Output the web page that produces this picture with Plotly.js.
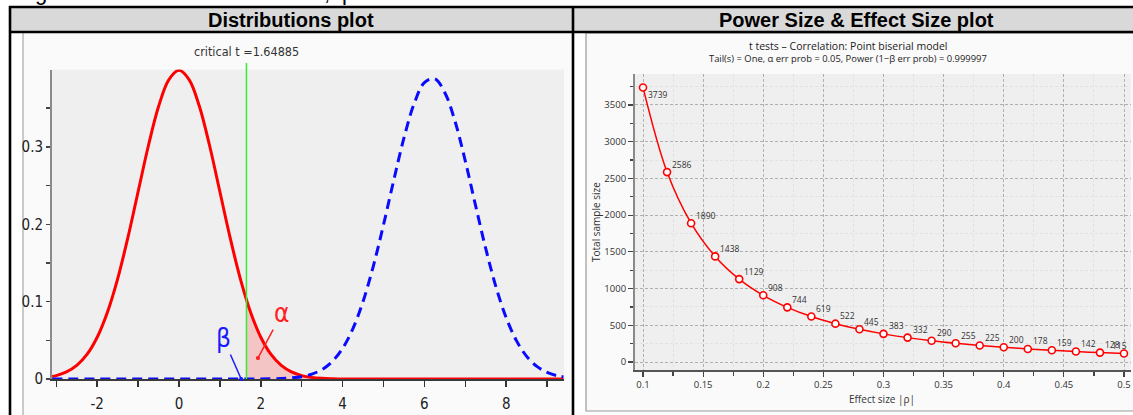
<!DOCTYPE html>
<html><head><meta charset="utf-8">
<script src="https://cdn.plot.ly/plotly-3.0.1.min.js"></script>
<style>html,body{margin:0;padding:0;background:#fff;}#chart{width:1133px;height:415px;}</style>
</head><body><div id="chart"></div>
<script>
// ---------- Data: Distributions plot ----------
const criticalT = 1.64885;
const h0X = [-3.1,-3,-2.75,-2.5,-2.25,-2,-1.75,-1.5,-1.25,-1,-0.75,-0.5,-0.25,0,0.25,0.5,0.75,1,1.25,1.5,1.75,2,2.25,2.5,2.75,3,3.25,3.5,3.75,4,5,6,7,8,9,9.4];
const h0Y = [0.0033,0.0044,0.0091,0.0175,0.0317,0.054,0.0863,0.1295,0.1826,0.242,0.3011,0.3521,0.3867,0.3989,0.3867,0.3521,0.3011,0.242,0.1826,0.1295,0.0863,0.054,0.0317,0.0175,0.0091,0.0044,0.002,0.0009,0.0004,0.0001,0,0,0,0,0,0];
const h1X = [-3.1,-2,-1,0,1,2,2.5,2.75,3,3.25,3.5,3.75,4,4.25,4.5,4.75,5,5.25,5.5,5.75,6,6.25,6.5,6.75,7,7.25,7.5,7.75,8,8.25,8.5,8.75,9,9.25,9.4];
const h1Y = [0,0,0,0,0,0,0.0006,0.0014,0.003,0.0063,0.0123,0.0228,0.0396,0.0649,0.1002,0.1456,0.1993,0.2567,0.3115,0.356,0.383,0.388,0.37,0.3328,0.2816,0.2244,0.1684,0.119,0.0792,0.0496,0.0293,0.0163,0.0085,0.0042,0.0027];
const alphaX = [1.64885,1.75,2,2.25,2.5,2.75,3,3.25,3.5,3.75];
const alphaY = [0.1024,0.0863,0.054,0.0317,0.0175,0.0091,0.0044,0.002,0.0009,0.0004];
const distTickVals = [-3,-2,-1,0,1,2,3,4,5,6,7,8,9];
const distTickText = ['','-2','','0','','2','','4','','6','','8',''];
const densTickVals = [0,0.05,0.1,0.15,0.2,0.25,0.3,0.35];
const densTickText = ['0','','0.1','','0.2','','0.3',''];
const alphaTip = [1.93, 0.027];
const betaTip = [1.52, 0];

// ---------- Data: Power / Effect size plot ----------
const effectSize = [0.1,0.12,0.14,0.16,0.18,0.2,0.22,0.24,0.26,0.28,0.3,0.32,0.34,0.36,0.38,0.4,0.42,0.44,0.46,0.48,0.5];
const totalN = [3739,2586,1890,1438,1129,908,744,619,522,445,383,332,290,255,225,200,178,159,142,128,115];

// ---------- Helpers (pixel -> paper) ----------
const W = 1133, H = 415;
const px = x => x / W;
const py = y => 1 - y / H;
const NARROW = '"Liberation Sans Narrow","DejaVu Sans Condensed","Arial Narrow",sans-serif';
const SANS = '"Open Sans","Noto Sans","DejaVu Sans",sans-serif';
const ARIAL = '"Liberation Sans",Arial,sans-serif';

const traces = [
  {x: alphaX, y: alphaY, xaxis:'x', yaxis:'y', type:'scatter', mode:'lines', fill:'tozeroy',
   fillcolor:'rgba(255,120,120,0.35)', line:{width:0, shape:'spline'}, hoverinfo:'skip'},
  {x: h0X, y: h0Y, xaxis:'x', yaxis:'y', type:'scatter', mode:'lines',
   line:{color:'#ff0000', width:3, shape:'spline'}},
  {x: h1X, y: h1Y, xaxis:'x', yaxis:'y', type:'scatter', mode:'lines',
   line:{color:'#0a0aff', width:3, dash:'10px,6px', shape:'spline'}},
  {x: effectSize, y: totalN, xaxis:'x2', yaxis:'y2', type:'scatter', mode:'lines+markers',
   line:{color:'#ff0000', width:1.5, shape:'spline'},
   marker:{size:7, color:'#ffffff', line:{color:'#ff0000', width:1.6}}}
];

const shapes = [
  {type:'rect', xref:'paper', yref:'paper', x0:px(10), x1:px(1133), y0:py(32), y1:py(7), fillcolor:'#d9d9d9', line:{width:0}, layer:'below'},
  {type:'rect', xref:'paper', yref:'paper', x0:px(23), x1:px(573), y0:0, y1:py(32), fillcolor:'#fafafa', line:{width:0}, layer:'below'},
  {type:'line', xref:'paper', yref:'paper', x0:px(23), x1:px(23), y0:0, y1:py(33), line:{color:'#a8a8a8', width:1.2}, layer:'below'},
  {type:'rect', xref:'paper', yref:'paper', x0:px(586), x1:px(1140), y0:py(411), y1:py(33), fillcolor:'#fafafa', line:{color:'#9a9a9a', width:1.2}, layer:'below'},
  {type:'rect', xref:'paper', yref:'paper', x0:px(52), x1:px(564), y0:py(379), y1:py(69.5), fillcolor:'#efefef', line:{width:0}, layer:'below'},
  {type:'rect', xref:'paper', yref:'paper', x0:px(635), x1:px(1131), y0:py(370), y1:py(74), fillcolor:'#efefef', line:{width:0}, layer:'below'},
  {type:'line', xref:'paper', yref:'paper', x0:px(9), x1:1, y0:py(7), y1:py(7), line:{color:'#000', width:2.6}},
  {type:'line', xref:'paper', yref:'paper', x0:px(9), x1:1, y0:py(32), y1:py(32), line:{color:'#000', width:2.6}},
  {type:'line', xref:'paper', yref:'paper', x0:px(10), x1:px(10), y0:0, y1:py(6), line:{color:'#000', width:2.6}},
  {type:'line', xref:'paper', yref:'paper', x0:px(573), x1:px(573), y0:0, y1:py(6), line:{color:'#000', width:2.6}},
  {type:'line', xref:'x', yref:'paper', x0:criticalT, x1:criticalT, y0:py(379), y1:py(63), line:{color:'#33ee33', width:1.5}}
];

const C = {xanchor:'center', yanchor:'middle', showarrow:false};
const annotations = [
  Object.assign({text:'Distributions plot', xref:'paper', yref:'paper', x:px(291), y:py(19.5), font:{family:ARIAL, size:20, color:'#000', weight:'bold'}}, C),
  Object.assign({text:'Power Size &amp; Effect Size plot', xref:'paper', yref:'paper', x:px(856), y:py(19.5), font:{family:ARIAL, size:20, color:'#000', weight:'bold'}}, C),
  Object.assign({text:'critical t =' + criticalT, xref:'x', yref:'paper', x:criticalT, y:py(51), font:{family:NARROW, size:12.5, color:'#333'}}, C),
  {text:'α', xref:'x', yref:'y', x:alphaTip[0], y:alphaTip[1], ax:24, ay:-45, showarrow:true, arrowhead:6, arrowsize:0.7, arrowwidth:1.5, arrowcolor:'#ff2020', font:{family:NARROW, size:26, color:'#ff2020'}},
  {text:'β', xref:'x', yref:'y', x:betaTip[0], y:betaTip[1], ax:-18, ay:-41, showarrow:true, arrowhead:6, arrowsize:0.7, arrowwidth:1.5, arrowcolor:'#1a1aff', font:{family:NARROW, size:26, color:'#1a1aff'}},
  Object.assign({text:'t tests – Correlation: Point biserial model', xref:'paper', yref:'paper', x:px(848), y:py(46), font:{family:SANS, size:10.5, color:'#222'}}, C),
  Object.assign({text:'Tail(s) = One, α err prob = 0.05, Power (1−β err prob) = 0.999997', xref:'paper', yref:'paper', x:px(848), y:py(59), font:{family:SANS, size:9.4, color:'#222'}}, C),
  Object.assign({text:'Total sample size', xref:'paper', yref:'paper', x:px(596), y:py(222), textangle:-90, font:{family:SANS, size:10, color:'#333'}}, C),
  Object.assign({text:'Effect size |ρ|', xref:'paper', yref:'paper', x:px(882), y:py(399), font:{family:SANS, size:10, color:'#333'}}, C),
  Object.assign({text:'g', xref:'paper', yref:'paper', x:px(41), y:py(-7), font:{family:ARIAL, size:22, color:'#000'}}, C),
  Object.assign({text:',', xref:'paper', yref:'paper', x:px(327), y:py(-7), font:{family:ARIAL, size:22, color:'#000'}}, C),
  Object.assign({text:'p', xref:'paper', yref:'paper', x:px(348), y:py(-7), font:{family:ARIAL, size:22, color:'#000'}}, C)
];
// point labels built from the data arrays
const last = totalN.length - 1;
totalN.forEach((v, i) => {
  annotations.push({xref:'x2', yref:'y2', x:effectSize[i], y:v, text:String(v), showarrow:false,
    xanchor: i === last ? 'right' : 'left', yanchor:'middle',
    xshift: i === last ? 5 : 3, yshift: i === 0 ? -7 : 8,
    font:{family:SANS, size:8.5, color:'#333'}});
});

const layout = {
  width:W, height:H, margin:{l:0, r:0, t:0, b:0},
  paper_bgcolor:'#ffffff', plot_bgcolor:'rgba(0,0,0,0)', showlegend:false,
  xaxis:{domain:[px(52), px(564)], anchor:'y', range:[-3.105, 9.413],
    tickmode:'array', tickvals:distTickVals, ticktext:distTickText,
    ticks:'outside', ticklen:6, tickwidth:1.5, tickcolor:'#333',
    showgrid:false, zeroline:false, showline:true, linecolor:'#3a3a3a', linewidth:2, layer:'below traces',
    tickfont:{family:NARROW, size:15, color:'#222'}, ticklabelstandoff:4, fixedrange:true},
  yaxis:{domain:[py(379), py(69.5)], anchor:'x', range:[0, 0.4],
    tickmode:'array', tickvals:densTickVals, ticktext:densTickText,
    ticks:'outside', ticklen:4, tickwidth:1.5, tickcolor:'#444',
    showgrid:false, zeroline:false, showline:true, linecolor:'#8a8a8a', linewidth:2,
    tickfont:{family:NARROW, size:15, color:'#222'}, fixedrange:true},
  xaxis2:{domain:[px(635), px(1131)], anchor:'y2', range:[0.09335, 0.50582],
    tick0:0.1, dtick:0.05, ticks:'outside', ticklen:5, tickwidth:1.2, tickcolor:'#444',
    showgrid:true, gridcolor:'#b0b0b0', griddash:'3px,2px', gridwidth:1,
    minor:{dtick:0.025, ticks:'outside', ticklen:4, tickcolor:'#444', showgrid:true, gridcolor:'#e2e2e2'},
    zeroline:false, showline:true, linecolor:'#555', linewidth:2,
    tickfont:{family:SANS, size:9.5, color:'#333'}, fixedrange:true},
  yaxis2:{domain:[py(370), py(74)], anchor:'x2', range:[-109, 3922],
    tick0:0, dtick:500, ticks:'outside', ticklen:5, tickwidth:1.2, tickcolor:'#444',
    showgrid:true, gridcolor:'#b0b0b0', griddash:'3px,2px', gridwidth:1,
    minor:{dtick:250, ticks:'outside', ticklen:3, tickcolor:'#444', showgrid:true, gridcolor:'#e2e2e2'},
    zeroline:false, showline:true, linecolor:'#8a8a8a', linewidth:2,
    tickfont:{family:SANS, size:9.5, color:'#333'}, fixedrange:true},
  shapes:shapes, annotations:annotations
};

Plotly.newPlot('chart', traces, layout, {displayModeBar:false, staticPlot:true});
</script></body></html>
